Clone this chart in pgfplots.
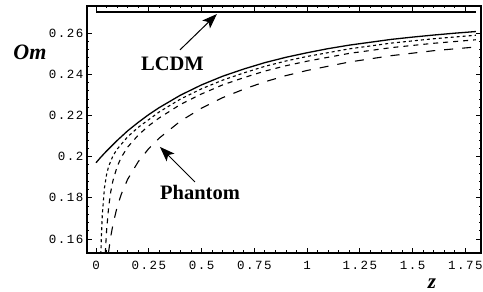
\documentclass[border=0pt]{standalone}
\usepackage{pgfplots}
\pgfplotsset{compat=1.18}
\usepackage{fontspec}
\setmainfont{Liberation Serif}
\newfontfamily\tickfont[LetterSpace=12]{Liberation Mono}
\usetikzlibrary{arrows.meta}
\begin{document}
\begin{tikzpicture}
\begin{axis}[
  scale only axis, width=394bp, height=247bp,
  xmin=-0.0427, xmax=1.8246, ymin=0.1532, ymax=0.2731,
  axis line style={line width=1.1bp},
  xtick={0,0.25,0.5,0.75,1,1.25,1.5,1.75},
  xticklabels={0,0.25,0.5,0.75,1,1.25,1.5,1.75},
  ytick={0.16,0.18,0.2,0.22,0.24,0.26},
  yticklabels={0.16,0.18,0.2,0.22,0.24,0.26},
  minor x tick num=4, minor y tick num=4,
  tick align=inside, major tick length=5bp, minor tick length=2.5bp,
  tick style={line width=0.7bp, black},
  tick label style={font=\fontsize{12.5bp}{14bp}\tickfont},
  xticklabel style={yshift=-5bp},
]
% LCDM
\addplot[black, line width=2.2bp] coordinates {(0,0.27) (1.8,0.27)};
% w = -1.1 (solid)
\addplot[black, line width=1.3bp] coordinates {
(0,0.1970) (0.02,0.1994) (0.05,0.2027) (0.1,0.2078) (0.15,0.2125) (0.2,0.2166)
(0.25,0.2204) (0.3,0.2238) (0.4,0.2298) (0.5,0.2348) (0.6,0.2390) (0.7,0.2425)
(0.8,0.2456) (0.9,0.2482) (1.0,0.2504) (1.1,0.2524) (1.2,0.2541) (1.3,0.2555)
(1.4,0.2569) (1.5,0.2580) (1.6,0.2590) (1.7,0.2599) (1.8,0.2607)};
% dashed A
\addplot[black, line width=1.1bp, dash pattern=on 3bp off 3bp] coordinates {
(0.023,0.1526) (0.025,0.1598) (0.03,0.1720) (0.04,0.1848) (0.05,0.1913) (0.06,0.1953)
(0.08,0.2003) (0.1,0.2036) (0.15,0.2096) (0.2,0.2142) (0.3,0.2217) (0.4,0.2279)
(0.5,0.2329) (0.6,0.2371) (0.7,0.2406) (0.8,0.2438) (0.9,0.2464) (1.0,0.2486)
(1.2,0.2523) (1.4,0.2551) (1.6,0.2572) (1.8,0.2589)};
% dashed B
\addplot[black, line width=1.1bp, dash pattern=on 5bp off 5bp] coordinates {
(0.044,0.1531) (0.05,0.1639) (0.06,0.1756) (0.07,0.1830) (0.08,0.1882) (0.1,0.1951)
(0.12,0.1997) (0.15,0.2046) (0.2,0.2104) (0.25,0.2150) (0.3,0.2188) (0.4,0.2253)
(0.5,0.2304) (0.6,0.2348) (0.7,0.2383) (0.8,0.2415) (0.9,0.2441) (1.0,0.2463)
(1.2,0.2501) (1.4,0.2529) (1.6,0.2550) (1.8,0.2567)};
% dashed C
\addplot[black, line width=1.1bp, dash pattern=on 9bp off 9bp] coordinates {
(0.059,0.1531) (0.06,0.1540) (0.07,0.1612) (0.08,0.1669) (0.1,0.1755) (0.12,0.1818)
(0.15,0.1890) (0.2,0.1975) (0.25,0.2039) (0.3,0.2090) (0.4,0.2172) (0.5,0.2235)
(0.6,0.2286) (0.7,0.2327) (0.8,0.2363) (0.9,0.2393) (1.0,0.2418) (1.2,0.2459)
(1.4,0.2490) (1.6,0.2514) (1.8,0.2532)};
% annotations
\node[font=\fontsize{20.5bp}{22bp}\selectfont\bfseries] at (axis cs:0.3626,0.2450) {LCDM};
\draw[line width=1bp, -{Stealth[length=15bp,width=11bp,inset=3.5bp]}] (axis cs:0.398,0.2518) -- (axis cs:0.573,0.2692);
\node[font=\fontsize{20.5bp}{22bp}\selectfont\bfseries] at (axis cs:0.493,0.1824) {Phantom};
\draw[line width=1bp, -{Stealth[length=15bp,width=11bp,inset=3.5bp]}] (axis cs:0.469,0.1877) -- (axis cs:0.303,0.2047);
\end{axis}
\node[font=\fontsize{22bp}{24bp}\selectfont\bfseries\itshape] at ([shift={(-57bp,201bp)}]current axis.south west) {Om};
\node[font=\fontsize{21bp}{24bp}\selectfont\bfseries\itshape] at ([shift={(345bp,-31bp)}]current axis.south west) {z};
\pgfresetboundingbox
\path ([shift={(-87bp,-39bp)}]current axis.south west) rectangle ([shift={(2bp,6bp)}]current axis.north east);
\end{tikzpicture}
\end{document}
